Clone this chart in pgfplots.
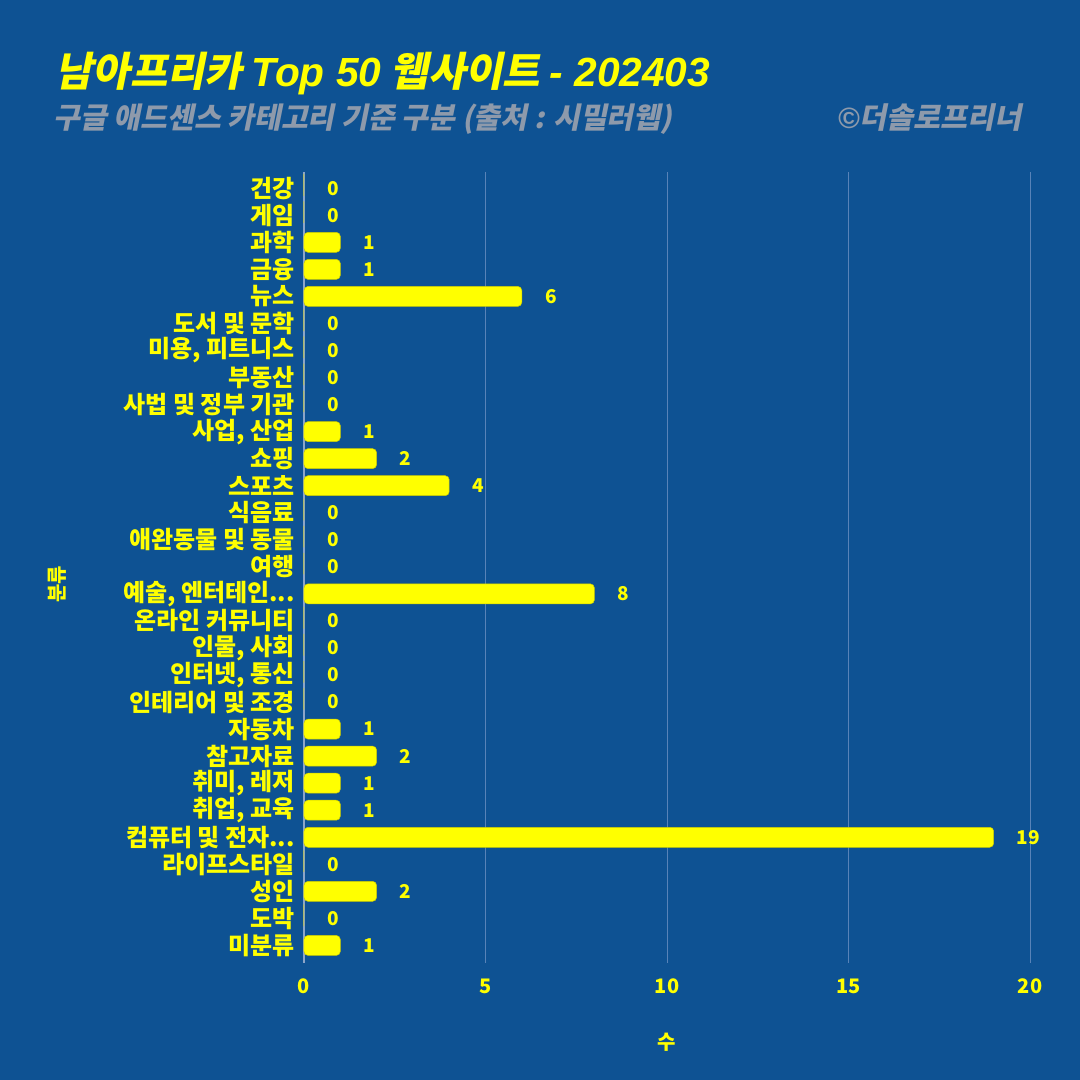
\documentclass[border=0pt]{standalone}
\usepackage{pgfplots}
\pgfplotsset{compat=1.18}
\usepackage{fontspec}
\setmainfont{Noto Sans CJK KR}
\newfontfamily\krit[FakeSlant=0.2]{Noto Sans CJK KR}
\newfontfamily\latit{Liberation Sans}
\newcommand\ddd{...}
\definecolor{bg}{HTML}{0E5293}
\definecolor{bary}{HTML}{FFFF00}
\definecolor{gridc}{HTML}{5883B8}
\definecolor{axc}{HTML}{8CA5C8}
\definecolor{subc}{HTML}{8E9AAB}
\begin{document}
\begin{tikzpicture}[x=1pt,y=1pt]
\fill[bg] (0,0) rectangle (1080,1080);
\begin{axis}[
  at={(304pt,117pt)}, anchor=south west,
  scale only axis, width=726pt, height=791pt,
  xbar, bar width=20pt,
  xmin=0, xmax=20,
  ymin=-0.6, ymax=28.65, y dir=reverse,
  ytick={0,1,2,3,4,5,6,7,8,9,10,11,12,13,14,15,16,17,18,19,20,21,22,23,24,25,26,27,28},
  yticklabels={건강,게임,과학,금융,뉴스,도서 및 문학,{미용, 피트니스},부동산,사법 및 정부 기관,{사업, 산업},쇼핑,스포츠,식음료,애완동물 및 동물,여행,{예술, 엔터테인\ddd},온라인 커뮤니티,{인물, 사회},{인터넷, 통신},인테리어 및 조경,자동차,참고자료,{취미, 레저},{취업, 교육},컴퓨터 및 전자\ddd,라이프스타일,성인,도박,미분류},
  xtick={0,5,10,15,20},
  xmajorgrids, grid style={gridc, line width=1pt},
  axis line style={draw=none},
  axis x line*=bottom, axis y line*=left,
  major tick length=0pt,
  tick label style={text=bary, font=\bfseries\fontsize{20}{20}\selectfont},
  yticklabel style={font=\bfseries\fontsize{24}{24}\selectfont, xshift=-8pt, inner sep=1pt},
  /pgf/number format/assume math mode=true,
  xticklabel style={yshift=-12pt},
  xlabel={수}, ylabel={분류},
  label style={text=bary, font=\bfseries\fontsize{20}{20}\selectfont},
  xlabel style={at={(axis description cs:0.5,0)}, anchor=center, yshift=-79pt},
  ylabel style={at={(axis description cs:0,0.5)}, anchor=center, yshift=247pt, xshift=-17pt},
  nodes near coords,
  nodes near coords style={text=bary, font=\bfseries\fontsize{19}{19}\selectfont, anchor=west, xshift=23pt, inner sep=0pt},
  clip=false,
]
\draw[axc, line width=2pt] (axis cs:0,-0.6) -- (axis cs:0,28.65);
\addplot[fill=bary, draw=bary!80!black, line width=0.5pt, rounded corners=4pt] coordinates {
(0,0) (0,1) (1,2) (1,3) (6,4) (0,5) (0,6) (0,7) (0,8) (1,9)
(2,10) (4,11) (0,12) (0,13) (0,14) (8,15) (0,16) (0,17) (0,18) (0,19)
(1,20) (2,21) (1,22) (1,23) (19,24) (0,25) (2,26) (0,27) (1,28)};
\end{axis}
\node[anchor=base west, text=bary, inner sep=0pt] at (55,993) {\resizebox{655pt}{!}{\fontsize{36}{36}\selectfont\krit\bfseries 남아프리카 {\latit\bfseries\itshape Top 50} 웹사이트 {\latit\bfseries\itshape - 202403}}};
\node[anchor=base west, text=subc, inner sep=0pt] at (53,951) {\resizebox{619pt}{!}{\fontsize{26}{26}\selectfont\krit\bfseries 구글 애드센스 카테고리 기준 구분 (출처 : 시밀러웹)}};
\node[anchor=base east, text=subc, inner sep=0pt] at (1022,951) {\resizebox{184pt}{!}{\fontsize{26}{26}\selectfont\krit\bfseries {\latit\bfseries\itshape ©}더솔로프리너}};
\pgfresetboundingbox
\useasboundingbox (0,0) rectangle (1080,1080);
\end{tikzpicture}
\end{document}
